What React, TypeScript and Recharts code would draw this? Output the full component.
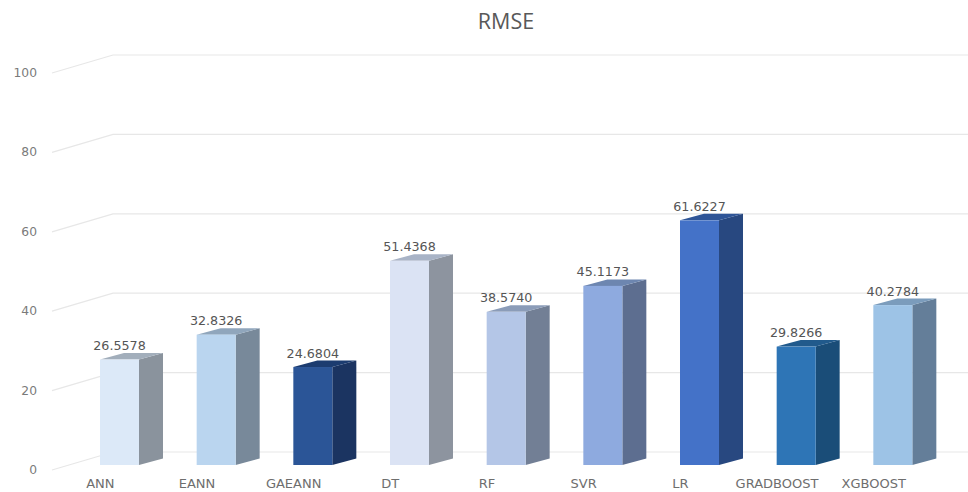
import { BarChart, Bar, XAxis, YAxis, CartesianGrid, LabelList, Cell } from 'recharts'

const models = ['ANN', 'EANN', 'GAEANN', 'DT', 'RF', 'SVR', 'LR', 'GRADBOOST', 'XGBOOST']
const rmse = [26.5578, 32.8326, 24.6804, 51.4368, 38.574, 45.1173, 61.6227, 29.8266, 40.2784]
const yTicks = [0, 20, 40, 60, 80, 100]

const frontColors = ['#dce9f8', '#bad5ef', '#2b5597', '#dbe3f4', '#b4c6e7', '#8eaadf', '#4472c8', '#2e75b6', '#9dc3e6']
const sideColors = ['#8a939d', '#78899a', '#1b3461', '#8d949f', '#727f95', '#5d6e90', '#284880', '#1a4d78', '#647e99']
const topColors = ['#a2aebb', '#90a6bc', '#1c3c70', '#a8b3c6', '#8b9cb8', '#6d86b0', '#2f5597', '#215a8c', '#7b9cbc']

const data = models.map((model, i) => ({ model, rmse: rmse[i] }))

const FONT = '"DejaVu Sans", sans-serif'
const DEPTH_X = 24
const DEPTH_Y = 6.5

// Fake 3D column: front face plus a side and top face pushed back
function Column3D({ x, y, width, height, index }: any) {
  const r = x + width
  const b = y + height
  return (
    <g>
      <polygon
        points={`${r},${y} ${r + DEPTH_X},${y - DEPTH_Y} ${r + DEPTH_X},${b - DEPTH_Y} ${r},${b}`}
        fill={sideColors[index]}
      />
      <polygon
        points={`${x},${y} ${x + DEPTH_X},${y - DEPTH_Y} ${r + DEPTH_X},${y - DEPTH_Y} ${r},${y}`}
        fill={topColors[index]}
      />
      <rect x={x} y={y} width={width} height={height} fill={frontColors[index]} />
    </g>
  )
}

// Gridline bends from the floor edge up onto the back wall
function WallLine({ y1 }: any) {
  return (
    <polyline
      points={`52,${y1 + 5} 113,${y1 - 13} 968,${y1 - 13}`}
      fill="none"
      stroke="#e7e7e7"
      strokeWidth={1.2}
    />
  )
}

function YTick({ x, y, payload }: any) {
  return (
    <text x={x - 26} y={y + 9} textAnchor="end" fontFamily={FONT} fontSize={12.3} fill="#7a7a7a">
      {payload.value}
    </text>
  )
}

function XTick({ x, y, payload }: any) {
  return (
    <text x={x - 19} y={y + 15} textAnchor="middle" fontFamily={FONT} fontSize={13} fill="#6e6e6e">
      {payload.value}
    </text>
  )
}

export default function App() {
  return (
    <div style={{ position: 'absolute', left: 0, top: 0, width: 968, height: 492, background: '#fff' }}>
      <BarChart
        width={968}
        height={492}
        data={data}
        margin={{ top: 68, right: 27, bottom: 0, left: 38 }}
      >
        <text x={506} y={29} textAnchor="middle" fontFamily='"Open Sans", sans-serif' fontSize={21.5} fill="#595959">
          RMSE
        </text>
        <CartesianGrid vertical={false} horizontal={<WallLine />} />
        <XAxis
          dataKey="model"
          axisLine={false}
          tickLine={false}
          interval={0}
          height={27}
          tick={<XTick />}
        />
        <YAxis
          width={33}
          domain={[0, 100]}
          ticks={yTicks}
          axisLine={false}
          tickLine={false}
          tick={<YTick />}
        />
        <Bar dataKey="rmse" barSize={39} shape={<Column3D />} isAnimationActive={false}>
          {data.map((d, i) => (
            <Cell key={d.model} fill={frontColors[i]} />
          ))}
          <LabelList
            dataKey="rmse"
            position="top"
            offset={9.5}
            formatter={(v: any) => Number(v).toFixed(4)}
            style={{ fontFamily: FONT, fontSize: 12.7, fill: '#555555' }}
          />
        </Bar>
      </BarChart>
    </div>
  )
}
